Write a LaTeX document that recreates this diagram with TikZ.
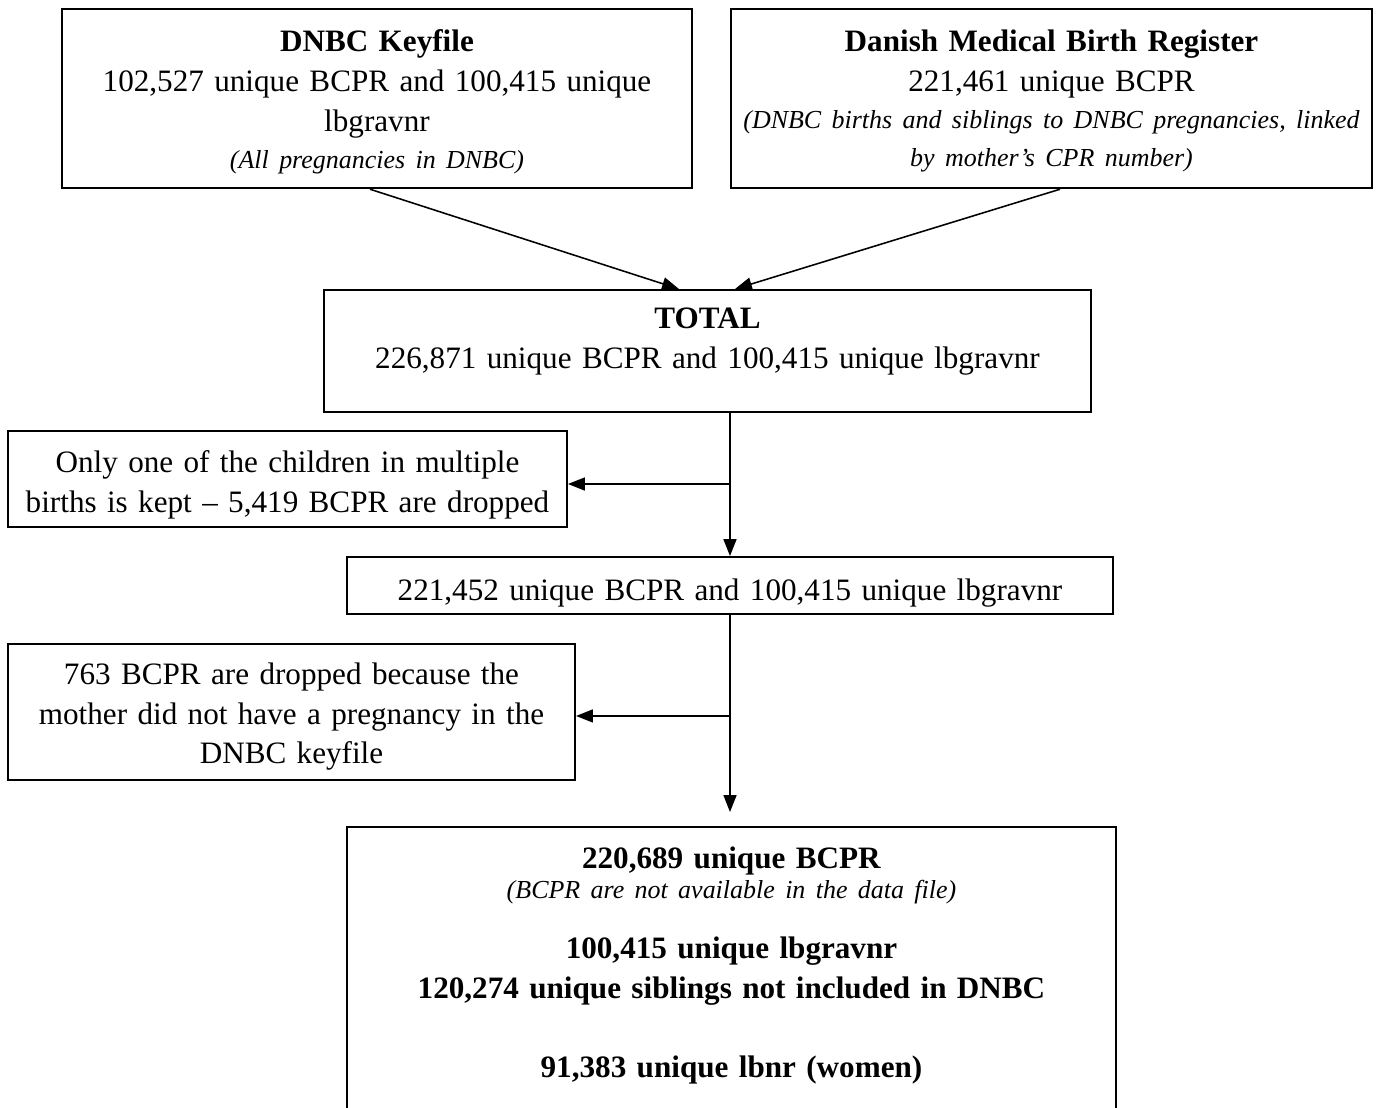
\documentclass[tikz,border=0pt]{standalone}
\usepackage{fontspec}
\setmainfont{Liberation Serif}
\usetikzlibrary{arrows.meta}
\tikzset{
  flowbox/.style={draw, line width=0.8pt, inner xsep=0pt, inner ysep=0pt, align=center, anchor=north,
    font=\fontsize{12}{15.4}\selectfont},
  arrow/.style={line width=0.6pt, -{Triangle[length=6.5pt,width=5pt]}},
}
\newcommand{\smallnote}[1]{{\fontsize{10}{12}\selectfont\itshape #1}}
\begin{document}
\begin{tikzpicture}[x=0.3852pt, y=-0.3852pt]
        \useasboundingbox (0,0) rectangle (1382,1108);
        \clip (0,0) rectangle (1382,1108);
        % sources
        \node[flowbox, text width=242.7pt, text height=16.2pt, text depth=52.8pt] (keyfile) at (377,8)
            {\textbf{DNBC Keyfile}\\ 102,527 unique BCPR and 100,415 unique\\ lbgravnr\\[-0.8pt] \smallnote{(All pregnancies in DNBC)}};
        \node[flowbox, text width=246.9pt, text height=16.2pt, text depth=52.8pt] (register) at (1051.5,8)
            {\textbf{Danish Medical Birth Register}\\ 221,461 unique BCPR\\[-1pt] \smallnote{(DNBC births and siblings to DNBC pregnancies, linked}\\[-0.8pt] \smallnote{by mother's CPR number)}};
        \node[flowbox, text width=295.5pt, text height=15pt, text depth=32pt] (total) at (707.5,289)
            {\textbf{TOTAL}\\ 226,871 unique BCPR and 100,415 unique lbgravnr};
        % selection steps
        \node[flowbox, text width=215.3pt, text height=15.8pt, text depth=21.2pt] (multiples) at (287.5,430)
            {Only one of the children in multiple\\ births is kept \textendash{} 5,419 BCPR are dropped};
        \node[flowbox, text width=295.1pt, text height=16.9pt, text depth=5pt] (singles) at (730,556)
            {221,452 unique BCPR and 100,415 unique lbgravnr};
        \node[flowbox, text width=218.4pt, text height=15.4pt, text depth=37pt] (nopreg) at (291.5,643)
            {763 BCPR are dropped because the\\ mother did not have a pregnancy in the\\ DNBC keyfile};
        \node[flowbox, text width=296.2pt, text height=15.8pt, text depth=105pt] (final) at (731.5,826)
            {\textbf{220,689 unique BCPR}\\[-3.5pt] \smallnote{(BCPR are not available in the data file)}\\[7.7pt]
             \textbf{100,415 unique lbgravnr}\\ \textbf{120,274 unique siblings not included in DNBC}\\[15pt]
             \textbf{91,383 unique lbnr (women)}};
        \coordinate (split1) at ([yshift=-1.9pt]singles.north |- multiples.east);
        \coordinate (split2) at ([yshift=-1.5pt]singles.south |- nopreg.east);
        % connectors
        \draw[arrow] ([xshift=-2.7pt]keyfile.south) -- ([xshift=-11pt]total.north);
        \draw[arrow] ([xshift=3.3pt]register.south) -- ([xshift=10.6pt]total.north);
        \draw[arrow] (total.south -| singles.north) -- (singles.north);
        \draw[arrow] (split1) -- (split1 -| multiples.east);
        \draw[arrow] (singles.south) -- ([yshift=5.4pt]singles.south |- final.north);
        \draw[arrow] (split2) -- (split2 -| nopreg.east);
    \end{tikzpicture}
\end{document}
